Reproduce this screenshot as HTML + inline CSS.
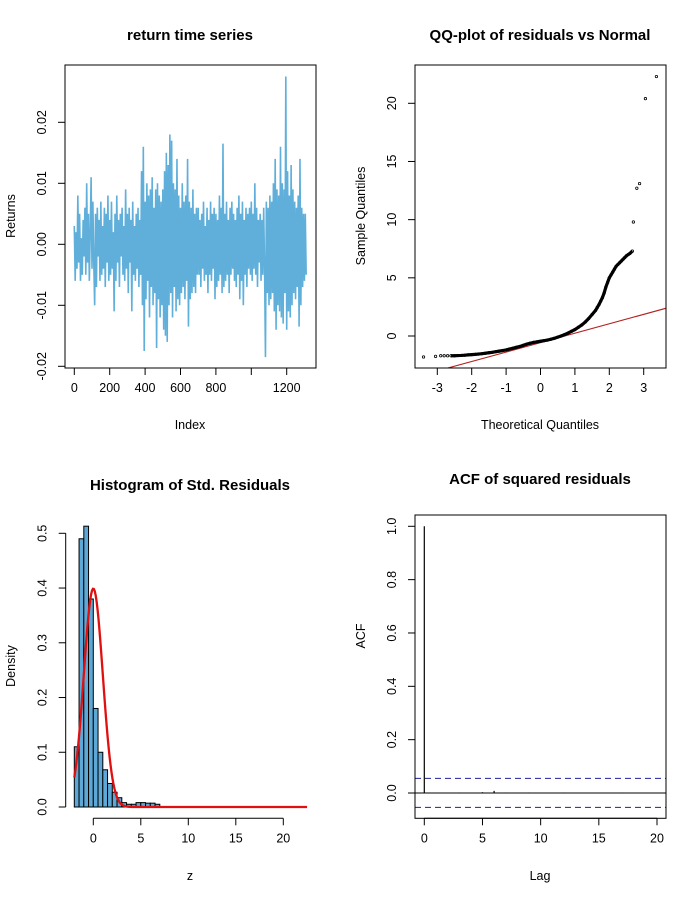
<!DOCTYPE html>
<html><head><meta charset="utf-8"><style>
html,body{margin:0;padding:0;background:#fff;}
svg{display:block;font-family:"Liberation Sans",Arial,sans-serif;}
</style></head><body>
<svg id="fig" width="700" height="900" viewBox="0 0 700 900" xmlns="http://www.w3.org/2000/svg"></svg>
<script>
// ---------- data ----------
const tsA=[3,-6,2,-4,8,-3,5,-6,1,-5,4,-2,6,-5,10,-3,5,-6,2,11,-4,7,-3,-10,5,-7,6,-2,4,-6,7,-5,3,-4,6,-7,5,-3,8,-6,4,-5,7,-4,2,-11,5,-6,8,-3,4,-7,5,-2,6,-5,3,-6,9,-4,5,-8,6,-3,4,-11,7,-5,3,-6,5,-4,6,-7,4,-5];
const tsB=[12,-10,16,-17.5,7,-9,10,-6,8,-12,9,-7,11,-10,6,-8,9,-17,10,-9,8,-12,7,-10,9,-14,12,-15,15,-16,13,-10,18,-8,17,-12,10,-7,9,-11,14,-9,8,-10,6,-8,10,-7,7,-9,8,-6,14,-13.5,7,-9,6,-8,9,-7,5,-8,6,-5];
const tsC=[6,-5,4,-7,5,-4,7,-6,3,-5,6,-8,4,-5,7,-6,5,-4,6,-9,5,-7,4,-6,8,-5,6,-8,16.5,-7,5,-6,7,-5,4,-8,6,-5,7,-4,5,-6,4,-7,6,-5,8,-9,5,-6,7,-10,4,-5,6,-7,5,-4,6,-5,7,-6,5,-4,10,-5,6,-7,4,-3,5,-6,4,-5,6,-4];
const tsD=[-18.5,7,-8,6,-10,8,-9,7,-8,10,-11,14,-14,9,-10,8,-11,16,-12,10,-13,9,-8,27.5,-14,12,-11,8,-12,13,-10,9,-8,7,-9,6,-7,8,-13.5,14,-10,6,-7,5,-6,5,-5];
const tsStep=5; // index step between stored returns (units of 1e-3)
const tsXTicks=[0,200,400,600,800,1000,1200];
const tsXLabels=["0","200","400","600","800","","1200"];
const tsYTicks=[-0.02,-0.01,0,0.01,0.02];
const tsYLabels=["-0.02","-0.01","0.00","0.01","0.02"];

const qqTheo=[-3.4,-3.05,-2.9,-2.8,-2.7,-2.6,-2.5,-2.4,-2.3,-2.2,-2.1,-2.0,-1.9,-1.8,-1.7,-1.6,-1.5,-1.4,-1.3,-1.2,-1.1,-1.0,-0.9,-0.8,-0.7,-0.6,-0.5,-0.4,-0.3,-0.2,-0.1,0,0.1,0.2,0.3,0.4,0.5,0.6,0.7,0.8,0.9,1.0,1.1,1.2,1.3,1.4,1.5,1.6,1.65,1.7,1.75,1.8,1.85,1.9,1.95,2.0,2.05,2.1,2.15,2.2,2.25,2.3,2.35,2.4,2.45,2.5,2.55,2.6,2.67,2.7,2.8,2.88,3.05,3.37];
const qqSample=[-1.8,-1.75,-1.7,-1.7,-1.7,-1.7,-1.7,-1.68,-1.67,-1.65,-1.62,-1.6,-1.58,-1.55,-1.52,-1.48,-1.44,-1.4,-1.35,-1.3,-1.25,-1.2,-1.12,-1.05,-0.97,-0.9,-0.8,-0.7,-0.62,-0.55,-0.5,-0.45,-0.4,-0.35,-0.28,-0.2,-0.1,0.0,0.12,0.25,0.4,0.55,0.75,0.95,1.2,1.5,1.85,2.2,2.45,2.7,3.0,3.3,3.7,4.2,4.6,5.0,5.25,5.5,5.75,6.0,6.15,6.3,6.45,6.6,6.75,6.9,7.0,7.1,7.3,9.8,12.7,13.1,20.4,22.3];
const qqLine=[-0.57,0.81]; // intercept, slope
const qqXTicks=[-3,-2,-1,0,1,2,3];
const qqYTicks=[0,5,10,15,20];

const histBreakStart=-2, histBinWidth=0.5;
const histDensity=[0.11,0.49,0.513,0.38,0.18,0.10,0.068,0.043,0.027,0.017,0.008,0.005,0.005,0.008,0.008,0.007,0.007,0.005];
const normParams=[0,1]; // mean, sd
const normRange=[-2,22.5];
const histXTicks=[0,5,10,15,20];
const histYTicks=[0,0.1,0.2,0.3,0.4,0.5];
const histYLabels=["0.0","0.1","0.2","0.3","0.4","0.5"];

const acfLags=[0,1,2,3,4,5,6,7,8,9,10,11,12,13,14,15,16,17,18,19,20];
const acfValues=[1,0.001,0.001,0.002,0.001,0.003,0.008,0.002,0.001,0.002,0.001,0.001,0.002,0.001,0.001,0.001,0.001,0.002,0.001,0.001,0.001];
const acfCI=[0.055,-0.054];
const acfXTicks=[0,5,10,15,20];
const acfYTicks=[0,0.2,0.4,0.6,0.8,1.0];
const acfYLabels=["0.0","0.2","0.4","0.6","0.8","1.0"];

// ---------- helpers ----------
const NS="http://www.w3.org/2000/svg";
const svg=document.getElementById('fig');
function mk(tag,attrs,parent){const e=document.createElementNS(NS,tag);for(const k in attrs)e.setAttribute(k,attrs[k]);(parent||svg).appendChild(e);return e;}
function lin(d0,d1,r0,r1){return v=>r0+(v-d0)*(r1-r0)/(d1-d0);}
function txt(x,y,s,size,opts,name){const t=mk('text',Object.assign({x:x,y:y,'font-size':size,'text-anchor':'middle',fill:'#000'},opts||{}));t.textContent=s;


return t;}
function rtxt(x,y,s,size,name){const t=mk('text',{x:0,y:0,'font-size':size,'text-anchor':'middle',fill:'#000',transform:`translate(${x},${y}) rotate(-90)`});t.textContent=s;


return t;}
function xAxis(xs,ticks,labels,yLine,name){const g=mk('g',{});


mk('line',{x1:xs(ticks[0]),x2:xs(ticks[ticks.length-1]),y1:yLine,y2:yLine,stroke:'#000'},g);
ticks.forEach((t,i)=>{mk('line',{x1:xs(t),x2:xs(t),y1:yLine,y2:yLine+7,stroke:'#000'},g);
if(labels[i]!==""){const l=txt(xs(t),yLine+24,labels[i],12.5,{},'x-tick-label');g.appendChild(l);}});}
function yAxis(ys,ticks,labels,xLine,name){const g=mk('g',{});


mk('line',{x1:xLine,x2:xLine,y1:ys(ticks[0]),y2:ys(ticks[ticks.length-1]),stroke:'#000'},g);
ticks.forEach((t,i)=>{mk('line',{x1:xLine,x2:xLine-7,y1:ys(t),y2:ys(t),stroke:'#000'},g);
const l=rtxt(xLine-19,ys(t),labels[i],12.5,'y-tick-label');g.appendChild(l);});}
function box(x0,y0,x1,y1,name){const r=mk('rect',{x:x0,y:y0,width:x1-x0,height:y1-y0,fill:'none',stroke:'#000','stroke-width':1});

}

// ---------- panel 1: return time series ----------
(function(){
const xs=lin(0,1200,74.3,286.7), ys=lin(0,0.02,244.3,122.3);
const clip=mk('clipPath',{id:'c1'});mk('rect',{x:65,y:65,width:251,height:303},clip);
const vals=tsA.concat(tsB,tsC,tsD);
let d='';vals.forEach((v,i)=>{d+=(i?'L':'M')+xs(i*tsStep).toFixed(2)+','+ys(v/1000).toFixed(2);});
const p=mk('path',{d:d,fill:'none',stroke:'#5FAFDA','stroke-width':1.6,'clip-path':'url(#c1)'});


box(65,65,316,368,'ts-plot-box');
xAxis(xs,tsXTicks,tsXLabels,368,'ts-x-axis');
yAxis(ys,tsYTicks,tsYLabels,65,'ts-y-axis');
txt(190,40,'return time series',15,{'font-weight':'bold'},'ts-title');
txt(190,429,'Index',12.5,{},'ts-x-title');
rtxt(15,216,'Returns',12.5,'ts-y-title');
})();

// ---------- panel 2: QQ plot ----------
(function(){
const xs=lin(0,3,540.5,643.7), ys=lin(0,20,336,103.3);
const clip=mk('clipPath',{id:'c2'});mk('rect',{x:415,y:65,width:251,height:303},clip);
const x0=-4,x1=4;
const l=mk('line',{x1:xs(x0),y1:ys(qqLine[0]+qqLine[1]*x0),x2:xs(x1),y2:ys(qqLine[0]+qqLine[1]*x1),stroke:'#B22222','stroke-width':1.1,'clip-path':'url(#c2)'});


let d='';qqTheo.forEach((t,i)=>{if(i>=5&&i<=68)d+=(i>5?'L':'M')+xs(t).toFixed(2)+','+ys(qqSample[i]).toFixed(2);});
const pl=mk('path',{d:d,fill:'none',stroke:'#000','stroke-width':3.2});


qqTheo.forEach((t,i)=>{const c=mk('circle',{cx:xs(t),cy:ys(qqSample[i]),r:1.2,fill:'none',stroke:'#000','stroke-width':0.8});

});
box(415,65,666,368,'qq-plot-box');
xAxis(xs,qqXTicks,qqXTicks.map(String),368,'qq-x-axis');
yAxis(ys,qqYTicks,qqYTicks.map(String),415,'qq-y-axis');
txt(540,40,'QQ-plot of residuals vs Normal',15,{'font-weight':'bold'},'qq-title');
txt(540,429,'Theoretical Quantiles',12.5,{},'qq-x-title');
rtxt(365,216,'Sample Quantiles',12.5,'qq-y-title');
})();

// ---------- panel 3: histogram ----------
(function(){
const xs=lin(0,20,93.3,283.3), ys=lin(0,0.5,807,533.3);
histDensity.forEach((h,i)=>{const a=histBreakStart+i*histBinWidth,b=a+histBinWidth;
const r=mk('rect',{x:xs(a),y:ys(h),width:xs(b)-xs(a),height:ys(0)-ys(h),fill:'#5DA8D6',stroke:'#000','stroke-width':1});

});
let d='';const n=250;for(let k=0;k<=n;k++){const z=normRange[0]+(normRange[1]-normRange[0])*k/n;
const dens=Math.exp(-0.5*Math.pow((z-normParams[0])/normParams[1],2))/(normParams[1]*Math.sqrt(2*Math.PI));
d+=(k?'L':'M')+xs(z).toFixed(2)+','+ys(dens).toFixed(2);}
const p=mk('path',{d:d,fill:'none',stroke:'#E01010','stroke-width':2.3});


xAxis(xs,histXTicks,histXTicks.map(String),818.3,'hist-x-axis');
yAxis(ys,histYTicks,histYLabels,65.7,'hist-y-axis');
txt(190,490,'Histogram of Std. Residuals',15,{'font-weight':'bold'},'hist-title');
txt(190,880,'z',12.5,{},'hist-x-title');
rtxt(15,666,'Density',12.5,'hist-y-title');
})();

// ---------- panel 4: ACF ----------
(function(){
const xs=lin(0,20,424.3,657), ys=lin(0,1,793,526.3);
const z=mk('line',{x1:415,x2:666,y1:ys(0),y2:ys(0),stroke:'#000'});


acfCI.forEach(c=>{const l=mk('line',{x1:415,x2:666,y1:ys(c),y2:ys(c),stroke:'#1F1F9F','stroke-dasharray':'6,4','stroke-width':1});

});
acfLags.forEach((g,i)=>{const l=mk('line',{x1:xs(g),x2:xs(g),y1:ys(0),y2:ys(acfValues[i]),stroke:'#000','stroke-width':1.2});

});
box(415,515,666,818.3,'acf-plot-box');
xAxis(xs,acfXTicks,acfXTicks.map(String),818.3,'acf-x-axis');
yAxis(ys,acfYTicks,acfYLabels,415,'acf-y-axis');
txt(540,484,'ACF of squared residuals',15,{'font-weight':'bold'},'acf-title');
txt(540,880,'Lag',12.5,{},'acf-x-title');
rtxt(365,636,'ACF',12.5,'acf-y-title');
})();
</script>
</body></html>
